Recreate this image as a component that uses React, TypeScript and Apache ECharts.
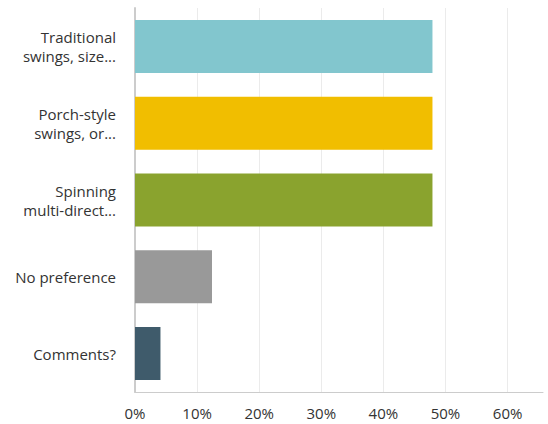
import React, { useEffect, useRef } from "react";
import * as echarts from "echarts";

const categories = [
  "Traditional\nswings, size...",
  "Porch-style\nswings, or...",
  "Spinning\nmulti-direct...",
  "No preference",
  "Comments?",
];
const values = [47.9, 47.9, 47.9, 12.4, 4.1];
const barColors = ["#82c6ce", "#f1be00", "#8aa32e", "#999999", "#3f5b6b"];
const tickValues = [0, 10, 20, 30, 40, 50, 60];

export default function App() {
  const ref = useRef<HTMLDivElement>(null);
  useEffect(() => {
    if (!ref.current) return;
    const chart = echarts.init(ref.current, null, { renderer: "svg" });
    chart.setOption({
      animation: false,
      backgroundColor: "#ffffff",
      grid: { left: 135, right: 5, top: 8, bottom: 32, containLabel: false },
      xAxis: {
        type: "value",
        min: 0,
        max: 65.7,
        interval: 10,
        axisLine: { show: true, lineStyle: { color: "#cccccc", width: 1 } },
        axisTick: { show: false },
        splitLine: { show: true, showMaxLine: false, lineStyle: { color: "#ebebeb", width: 1 } },
        axisLabel: {
          margin: 13,
          color: "#333333",
          fontSize: 15,
          fontFamily: "Open Sans",
          formatter: (v: number) => (tickValues.includes(Math.round(v * 1000) / 1000) ? `${v}%` : ""),
        },
      },
      yAxis: {
        type: "category",
        inverse: true,
        data: categories,
        axisLine: { show: true, lineStyle: { color: "#cccccc", width: 2 } },
        axisTick: { show: false },
        axisLabel: {
          margin: 19,
          color: "#333333",
          fontSize: 15,
          lineHeight: 19,
          fontFamily: "Open Sans",
          align: "right",
        },
      },
      series: [
        {
          type: "bar",
          data: values.map((v, i) => ({
            value: v,
            itemStyle: { color: barColors[i] },
          })),
          barWidth: 53,
          silent: true,
        },
      ],
    });
    return () => chart.dispose();
  }, []);
  return (
    <div
      ref={ref}
      style={{ position: "fixed", left: 0, top: 0, width: 548, height: 424, background: "#fff" }}
    />
  );
}
